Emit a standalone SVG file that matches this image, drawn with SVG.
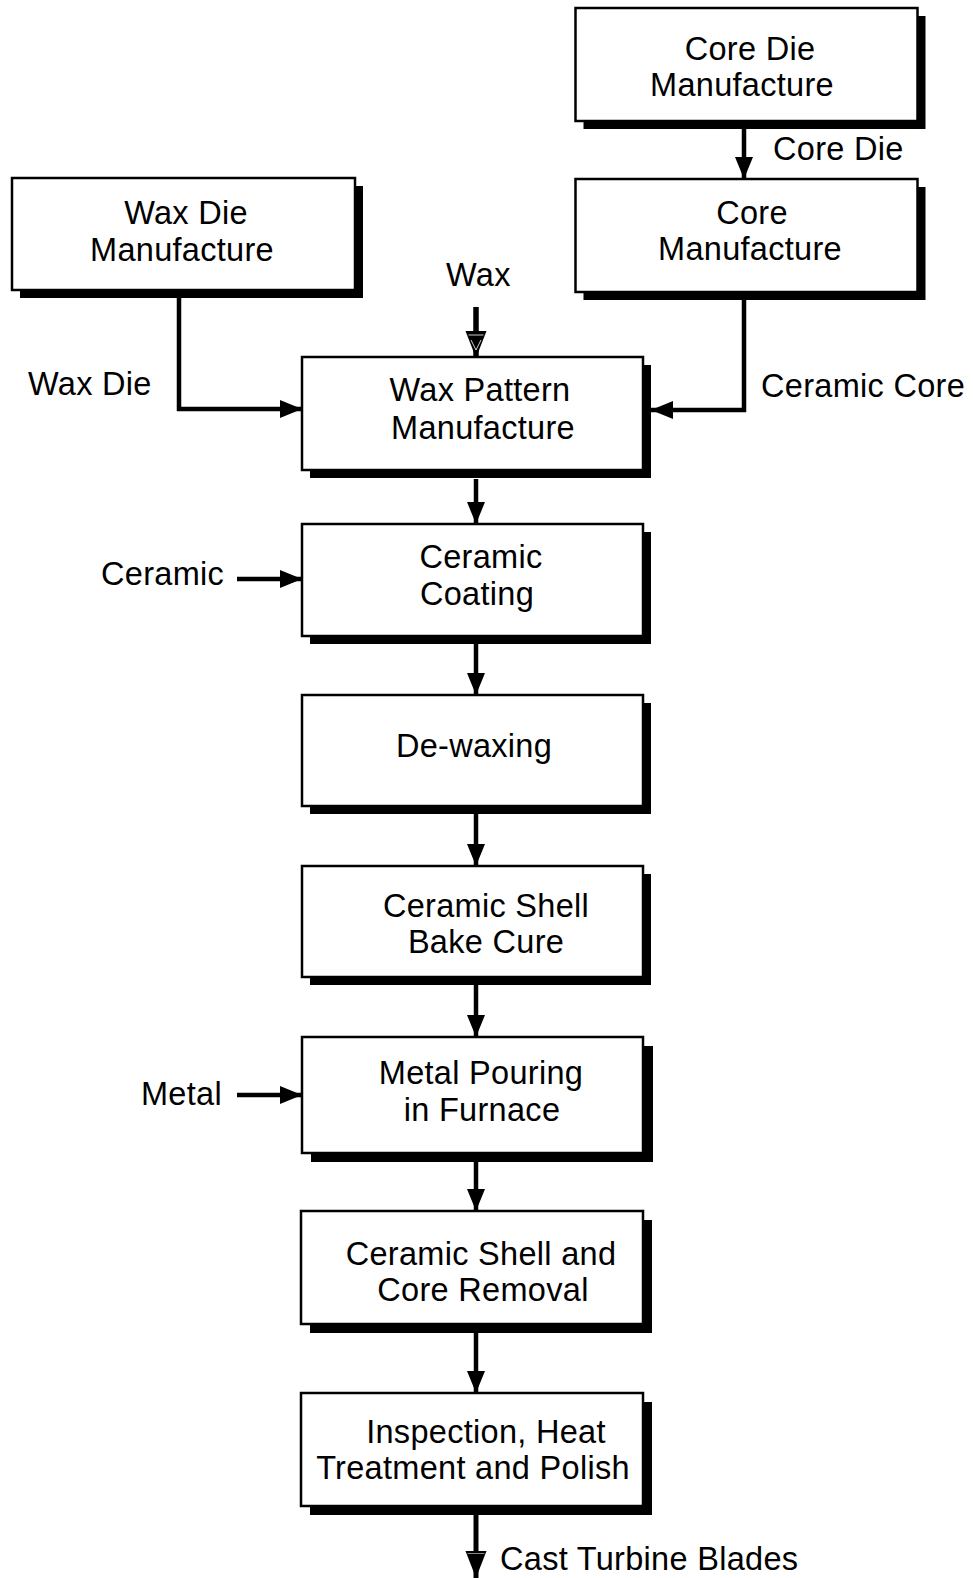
<svg xmlns="http://www.w3.org/2000/svg" width="973" height="1578" viewBox="0 0 973 1578">
<style>
.box{fill:#fff;stroke:#000;stroke-width:2.5}
.sh{fill:#000}
text{font-family:"Liberation Sans",Arial,Helvetica,sans-serif;font-size:32.5px;letter-spacing:0.3px;fill:#000}
.c{text-anchor:middle}
.ln{fill:none;stroke:#000;stroke-width:4.5;marker-end:url(#ah)}
</style>
<defs>
<marker id="ah" markerUnits="userSpaceOnUse" markerWidth="24" markerHeight="20" refX="22" refY="9" orient="auto">
<path d="M0,0 L22,9 L0,18 z" fill="#000"/>
</marker>
<marker id="ah2" markerUnits="userSpaceOnUse" markerWidth="30" markerHeight="24" refX="27" refY="10.5" orient="auto">
<path d="M0,0 L27,10.5 L0,21 z" fill="#000"/>
<path d="M4,3 V18 M9,5.5 L19,10.5 L9,15.5" fill="none" stroke="#fff" stroke-width="0.8"/>
</marker>
<marker id="ah3" markerUnits="userSpaceOnUse" markerWidth="30" markerHeight="24" refX="27" refY="10.5" orient="auto">
<path d="M0,0 L27,10.5 L0,21 z" fill="#000"/>
<path d="M2.5,2 V19" fill="none" stroke="#888" stroke-width="1"/>
</marker>
</defs>
<g id="connectors">
<path class="ln" d="M744,128 V179"/>
<path class="ln" d="M179,292 V409 H302"/>
<path class="ln" style="stroke-width:5.5;marker-end:url(#ah2)" d="M476,307 V358"/>
<path class="ln" d="M744,300 V410 H651"/>
<path class="ln" d="M476,479 V524"/>
<path class="ln" d="M476,644 V695"/>
<path class="ln" d="M476,814 V866"/>
<path class="ln" d="M476,985 V1037"/>
<path class="ln" d="M476,1162 V1211"/>
<path class="ln" d="M476,1333 V1393"/>
<path class="ln" style="stroke-width:5;marker-end:url(#ah3)" d="M476,1515 V1578"/>
<path class="ln" d="M237,579 H302"/>
<path class="ln" d="M237,1095 H302"/>
</g>
<g id="n-coredie">
<rect class="sh" x="583.5" y="16" width="342" height="113"/>
<rect class="box" x="575.5" y="8" width="342" height="113"/>
<text class="c" x="750" y="60">Core Die</text>
<text class="c" x="742" y="96">Manufacture</text>
</g>
<g id="n-core">
<rect class="sh" x="583.5" y="187" width="342" height="113"/>
<rect class="box" x="575.5" y="179" width="342" height="113"/>
<text class="c" x="752" y="224">Core</text>
<text class="c" x="750" y="260">Manufacture</text>
</g>
<g id="n-waxdie">
<rect class="sh" x="20" y="186" width="343" height="112"/>
<rect class="box" x="12" y="178" width="343" height="112"/>
<text class="c" x="186" y="224">Wax Die</text>
<text class="c" x="182" y="261">Manufacture</text>
</g>
<g id="n-waxpattern">
<rect class="sh" x="310" y="365" width="341" height="113"/>
<rect class="box" x="302" y="357" width="341" height="113"/>
<text class="c" x="480" y="401">Wax Pattern</text>
<text class="c" x="483" y="439">Manufacture</text>
</g>
<g id="n-coating">
<rect class="sh" x="310" y="532" width="341" height="112"/>
<rect class="box" x="302" y="524" width="341" height="112"/>
<text class="c" x="481" y="568">Ceramic</text>
<text class="c" x="477" y="605">Coating</text>
</g>
<g id="n-dewax">
<rect class="sh" x="310" y="703" width="341" height="111"/>
<rect class="box" x="302" y="695" width="341" height="111"/>
<text class="c" x="474" y="757">De-waxing</text>
</g>
<g id="n-bake">
<rect class="sh" x="310" y="874" width="341" height="111"/>
<rect class="box" x="302" y="866" width="341" height="111"/>
<text class="c" x="486" y="917">Ceramic Shell</text>
<text class="c" x="486" y="953">Bake Cure</text>
</g>
<g id="n-metalpour">
<rect class="sh" x="311" y="1046" width="342" height="116"/>
<rect class="box" x="302" y="1037" width="341" height="116"/>
<text class="c" x="481" y="1084">Metal Pouring</text>
<text class="c" x="482" y="1121">in Furnace</text>
</g>
<g id="n-removal">
<rect class="sh" x="310" y="1220" width="342" height="113"/>
<rect class="box" x="301" y="1211" width="342" height="113"/>
<text class="c" x="481" y="1265">Ceramic Shell and</text>
<text class="c" x="483" y="1301">Core Removal</text>
</g>
<g id="n-inspect">
<rect class="sh" x="310" y="1402" width="342" height="113"/>
<rect class="box" x="301" y="1393" width="342" height="113"/>
<text class="c" x="486" y="1443">Inspection, Heat</text>
<text class="c" x="473" y="1479">Treatment and Polish</text>
</g>
<g id="labels">
<text x="773" y="160">Core Die</text>
<text x="446" y="286">Wax</text>
<text x="28" y="395">Wax Die</text>
<text x="761" y="397">Ceramic Core</text>
<text x="101" y="585">Ceramic</text>
<text x="141" y="1105">Metal</text>
<text x="500" y="1570">Cast Turbine Blades</text>
</g>
</svg>
